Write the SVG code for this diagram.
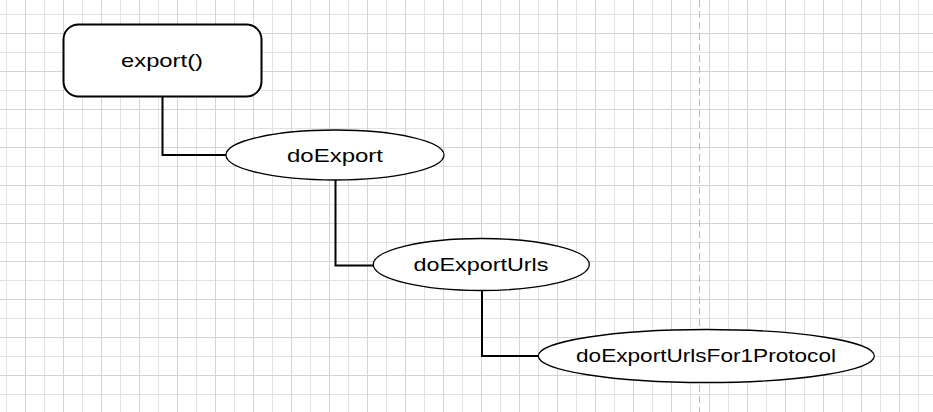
<svg xmlns="http://www.w3.org/2000/svg" width="933" height="412" viewBox="0 0 933 412">
<style>
.lbl{font-family:"Liberation Sans","DejaVu Sans",sans-serif;font-size:19px;fill:#000;text-anchor:middle}
.node{fill:#fff;stroke:#000}
.conn{fill:none;stroke:#000;stroke-width:2}
</style>
<defs>
<pattern id="grid" patternUnits="userSpaceOnUse" x="6" y="14" width="38" height="38">
<rect x="0" y="0" width="1" height="38" fill="#e2e2e2"/>
<rect x="0" y="0" width="38" height="1" fill="#e2e2e2"/>
<rect x="19" y="0" width="1" height="38" fill="#d4d4d4"/>
<rect x="0" y="19" width="38" height="1" fill="#d4d4d4"/>
</pattern>
</defs>
<rect width="933" height="412" fill="#fff"/>
<rect width="933" height="412" fill="url(#grid)"/>
<line x1="699.5" y1="0" x2="699.5" y2="412" stroke="#b8b8b8" stroke-width="1" stroke-dasharray="7 4"/>
<g id="connectors">
<path class="conn" d="M162.5 97 V155 H226"/>
<path class="conn" d="M335.5 180 V265.5 H373"/>
<path class="conn" d="M482 291 V356 H538"/>
</g>
<g id="export">
<rect class="node" x="63.5" y="24.5" width="198" height="72" rx="15" stroke-width="2"/>
<text class="lbl" x="162" y="66.5" textLength="82" lengthAdjust="spacingAndGlyphs">export()</text>
</g>
<g id="doExport">
<ellipse class="node" cx="335" cy="155" rx="109" ry="25" stroke-width="1.3"/>
<text class="lbl" x="335" y="161.5" textLength="96" lengthAdjust="spacingAndGlyphs">doExport</text>
</g>
<g id="doExportUrls">
<ellipse class="node" cx="481.3" cy="264.5" rx="108" ry="26" stroke-width="1.3"/>
<text class="lbl" x="481" y="271" textLength="135" lengthAdjust="spacingAndGlyphs">doExportUrls</text>
</g>
<g id="doExportUrlsFor1Protocol">
<ellipse class="node" cx="706.3" cy="356" rx="168" ry="26.5" stroke-width="1.3"/>
<text class="lbl" x="706" y="362" textLength="260" lengthAdjust="spacingAndGlyphs">doExportUrlsFor1Protocol</text>
</g>
</svg>
